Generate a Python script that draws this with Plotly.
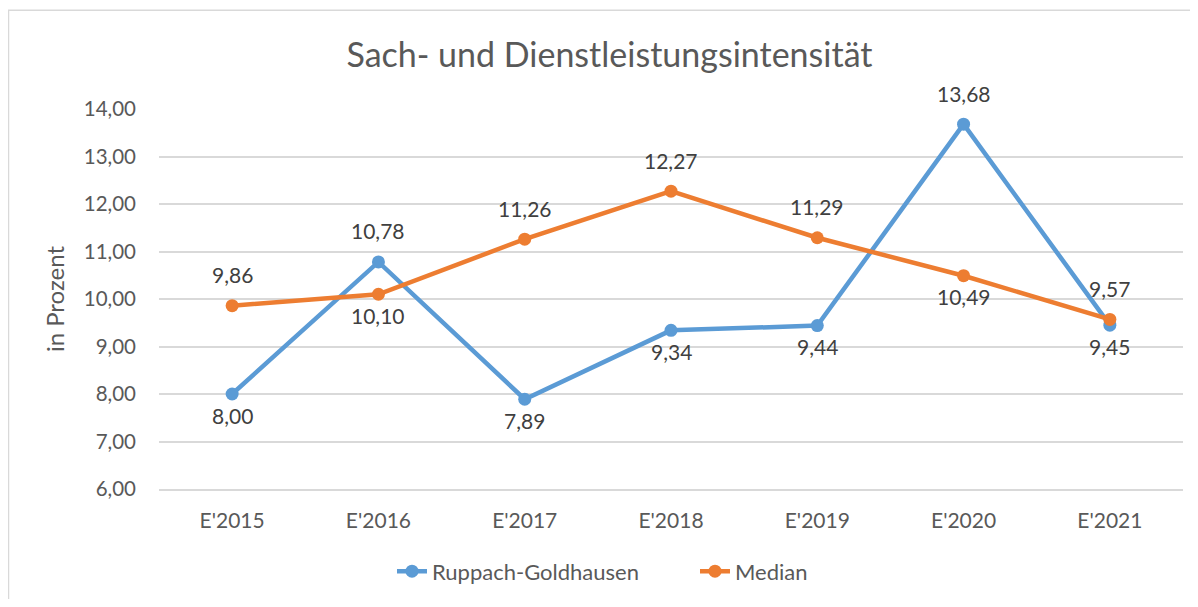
import plotly.graph_objects as go

categories = ["E'2015", "E'2016", "E'2017", "E'2018", "E'2019", "E'2020", "E'2021"]
ruppach = [8.00, 10.78, 7.89, 9.34, 9.44, 13.68, 9.45]
median = [9.86, 10.10, 11.26, 12.27, 11.29, 10.49, 9.57]
ruppach_above = [False, True, False, False, False, True, False]
median_above = [True, False, True, True, True, False, True]

FONT = "Lato, 'Open Sans', sans-serif"
OFF = 8  # default body margin of the page
W, H = 1198 - 2 * OFF, 607 - 2 * OFF
PL, PR, PT, PB = 159, 1183, 109, 492  # plot area in page px
L, R, T, B = PL - OFF, W - (PR - OFF), PT - OFF, H - (PB - OFF)

def fmt(v):
    return f"{v:.2f}".replace(".", ",")

BLUE, ORANGE = "#5B9BD5", "#ED7D31"

fig = go.Figure()
for name, vals, col in [("Ruppach-Goldhausen", ruppach, BLUE), ("Median", median, ORANGE)]:
    fig.add_trace(go.Scatter(
        x=categories, y=vals, name=name, mode="lines+markers",
        line=dict(color=col, width=4.5),
        marker=dict(size=13, color=col),
        cliponaxis=False,
    ))

annotations = []
for vals, above in [(ruppach, ruppach_above), (median, median_above)]:
    for c, v, a in zip(categories, vals, above):
        annotations.append(dict(
            x=c, y=v, xref="x", yref="y", text=fmt(v), showarrow=False,
            yshift=31 if a else -21, xanchor="center", yanchor="middle",
            font=dict(size=21, color="#404040", family=FONT),
        ))

pw = W - L - R
ph = H - T - B
def px2x(p):
    return (p - OFF - L) / pw
def px2y(p):
    return 1 - (p - OFF - T) / ph

fig.update_layout(
    width=W, height=H,
    margin=dict(l=L, r=R, t=T, b=B),
    paper_bgcolor="white", plot_bgcolor="white",
    separators=",.",
    font=dict(family=FONT, color="#595959", size=20),
    title=dict(text="Sach- und Dienstleistungsintensität", x=(609.5 - OFF) / W, xanchor="center",
               y=1 - (55 - OFF) / H, yanchor="middle",
               font=dict(size=34, color="#595959", family=FONT)),
    xaxis=dict(showgrid=False, showline=True, linecolor="#D9D9D9", linewidth=1.5,
               ticks="", tickfont=dict(size=21, color="#595959"), range=[-0.5, 6.5],
               ticklabelstandoff=12),
    yaxis=dict(range=[6, 14], dtick=1, tickformat=".2f", showgrid=True, gridcolor="#D9D9D9",
               gridwidth=1.5, zeroline=False, showline=False, ticks="",
               tickfont=dict(size=20.5, color="#595959"), ticklabelstandoff=22,
               title=dict(text="in Prozent", font=dict(size=24, color="#595959"), standoff=12)),
    showlegend=True,
    legend=dict(orientation="h", x=px2x(392), xanchor="left", y=px2y(575), yanchor="middle",
                font=dict(size=22, color="#595959"), bgcolor="rgba(0,0,0,0)",
                entrywidth=258, entrywidthmode="pixels"),
    hovermode=False,
    annotations=annotations,
    shapes=[dict(type="rect", xref="paper", yref="paper",
                 x0=px2x(8.5), x1=px2x(1230), y0=px2y(650), y1=px2y(9.5),
                 line=dict(color="#D9D9D9", width=1.5), fillcolor="rgba(0,0,0,0)", layer="below")],
)

fig.write_html("out.html")
